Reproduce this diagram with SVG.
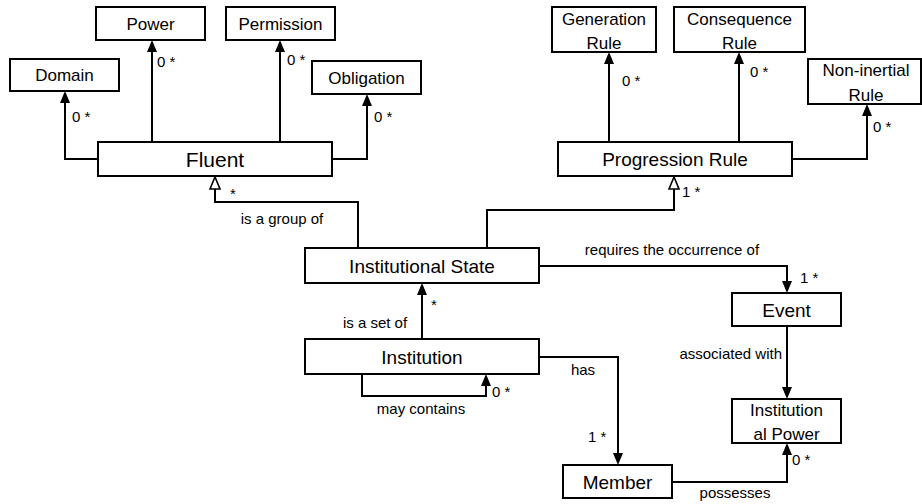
<svg xmlns="http://www.w3.org/2000/svg" width="922" height="504" viewBox="0 0 922 504">
<style>
  rect.box { fill: #fff; stroke: #000; stroke-width: 2; }
  text { font-family: "Liberation Sans", Arial, sans-serif; fill: #000; }
  .n16 { font-size: 17px; text-anchor: middle; }
  .n18 { font-size: 19px; text-anchor: middle; }
  .n20 { font-size: 21px; text-anchor: middle; }
  .lbl { font-size: 15px; }
  .mid { text-anchor: middle; }
  .end { text-anchor: end; }
  #connectors path { fill: none; stroke: #000; stroke-width: 2; }
</style>
<defs>
  <marker id="arrow" markerUnits="userSpaceOnUse" viewBox="0 0 12 10" refX="0" refY="5" markerWidth="12" markerHeight="10" orient="auto">
    <path d="M0,0 L12,5 L0,10 z" fill="#000"/>
  </marker>
  <marker id="hollow" markerUnits="userSpaceOnUse" viewBox="-1 -1 14 12" refX="0" refY="5" markerWidth="14" markerHeight="12" orient="auto">
    <path d="M0,0 L12,5 L0,10 z" fill="#fff" stroke="#000" stroke-width="1.6"/>
  </marker>
</defs>

<g id="connectors">
  <path d="M98,159 H65 V103" marker-end="url(#arrow)"/>
  <path d="M152,142 V52" marker-end="url(#arrow)"/>
  <path d="M280,142 V52" marker-end="url(#arrow)"/>
  <path d="M332,159 H367 V106" marker-end="url(#arrow)"/>
  <path d="M609,142 V64" marker-end="url(#arrow)"/>
  <path d="M739,142 V64" marker-end="url(#arrow)"/>
  <path d="M792,159 H867 V116" marker-end="url(#arrow)"/>
  <path d="M358,248 V202 H215 V189" marker-end="url(#hollow)"/>
  <path d="M487,248 V210 H674 V189" marker-end="url(#hollow)"/>
  <path d="M422,339 V295" marker-end="url(#arrow)"/>
  <path d="M362,374 V396 H486 V386" marker-end="url(#arrow)"/>
  <path d="M539,357 H618 V453" marker-end="url(#arrow)"/>
  <path d="M539,266 H787 V281" marker-end="url(#arrow)"/>
  <path d="M787,326 V387" marker-end="url(#arrow)"/>
  <path d="M672,482 H787 V455" marker-end="url(#arrow)"/>
</g>

<g id="labels">
  <text class="lbl" x="72" y="122">0 *</text>
  <text class="lbl" x="157" y="67">0 *</text>
  <text class="lbl" x="287" y="65">0 *</text>
  <text class="lbl" x="374" y="122">0 *</text>
  <text class="lbl" x="622" y="86">0 *</text>
  <text class="lbl" x="750" y="77">0 *</text>
  <text class="lbl" x="873" y="132">0 *</text>
  <text class="lbl" x="230" y="199">*</text>
  <text class="lbl mid" x="282" y="224">is a group of</text>
  <text class="lbl" x="682" y="197">1 *</text>
  <text class="lbl mid" x="672" y="255">requires the occurrence of</text>
  <text class="lbl" x="800" y="283">1 *</text>
  <text class="lbl end" x="782" y="359">associated with</text>
  <text class="lbl mid" x="375" y="328">is a set of</text>
  <text class="lbl" x="431" y="310">*</text>
  <text class="lbl" x="492" y="397">0 *</text>
  <text class="lbl mid" x="421" y="414">may contains</text>
  <text class="lbl mid" x="583" y="375">has</text>
  <text class="lbl" x="588" y="442">1 *</text>
  <text class="lbl" x="792" y="465">0 *</text>
  <text class="lbl mid" x="735" y="498">possesses</text>
</g>

<g id="domain"><rect class="box" x="10" y="59" width="109" height="32"/><text class="n16" x="64.5" y="81">Domain</text></g>
<g id="power"><rect class="box" x="96" y="7" width="109" height="33"/><text class="n16" x="150.5" y="29.5">Power</text></g>
<g id="permission"><rect class="box" x="226" y="7" width="109" height="33"/><text class="n16" x="280.5" y="29.5">Permission</text></g>
<g id="obligation"><rect class="box" x="312" y="61" width="109" height="33"/><text class="n16" x="366.5" y="83.5">Obligation</text></g>
<g id="fluent"><rect class="box" x="98" y="142" width="234" height="34"/><text class="n20" x="215" y="166.5">Fluent</text></g>
<g id="generation-rule"><rect class="box" x="552" y="7" width="104" height="45"/><text class="n16" x="604" y="25">Generation</text><text class="n16" x="604" y="49">Rule</text></g>
<g id="consequence-rule"><rect class="box" x="674" y="7" width="131" height="45"/><text class="n16" x="739.5" y="25">Consequence</text><text class="n16" x="739.5" y="49">Rule</text></g>
<g id="non-inertial-rule"><rect class="box" x="808" y="59" width="113" height="45"/><text class="n16" x="866" y="76">Non-inertial</text><text class="n16" x="866" y="101">Rule</text></g>
<g id="progression-rule"><rect class="box" x="558" y="142" width="234" height="34"/><text class="n18" x="675" y="166">Progression Rule</text></g>
<g id="institutional-state"><rect class="box" x="305" y="248" width="234" height="35"/><text class="n18" x="422" y="272.5">Institutional State</text></g>
<g id="institution"><rect class="box" x="305" y="339" width="234" height="35"/><text class="n18" x="422" y="363.5">Institution</text></g>
<g id="event"><rect class="box" x="732" y="293" width="109" height="33"/><text class="n18" x="786.5" y="316.5">Event</text></g>
<g id="institutional-power"><rect class="box" x="732" y="399" width="109" height="44"/><text class="n16" x="786.5" y="416">Institution</text><text class="n16" x="786.5" y="440">al Power</text></g>
<g id="member"><rect class="box" x="563" y="465" width="109" height="33"/><text class="n18" x="617.5" y="488.5">Member</text></g>
</svg>
